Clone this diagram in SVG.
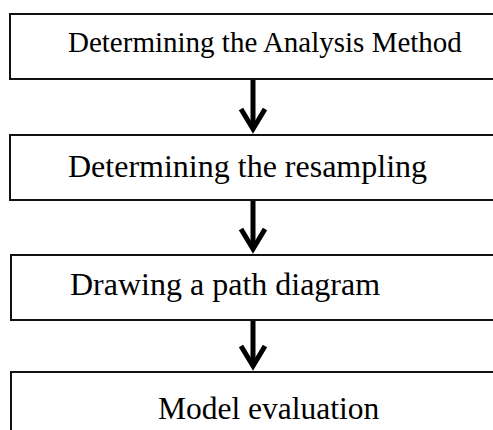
<svg xmlns="http://www.w3.org/2000/svg" width="493" height="430" viewBox="0 0 493 430">
<defs>
<style>
.box{fill:#fff;stroke:#111;stroke-width:2}
.lbl{font-family:"Liberation Serif","Times New Roman",serif;fill:#000}
.conn{stroke:#000;stroke-width:5;fill:none}
</style>
<marker id="chev" markerUnits="userSpaceOnUse" viewBox="-26 -16 32 32" markerWidth="32" markerHeight="32" refX="0" refY="0" orient="auto" overflow="visible">
<path d="M-20,-12 L0,0 L-20,12" fill="none" stroke="#000" stroke-width="5" stroke-linejoin="miter"/>
</marker>
</defs>
<rect width="493" height="430" fill="#fff"/>
<g id="connectors">
<line class="conn" x1="253" y1="79" x2="253" y2="129" marker-end="url(#chev)"/>
<line class="conn" x1="253" y1="200" x2="253" y2="249" marker-end="url(#chev)"/>
<line class="conn" x1="253" y1="320" x2="253" y2="366" marker-end="url(#chev)"/>
</g>
<g id="node1">
<rect class="box" x="10" y="14" width="500" height="65"/>
<text class="lbl" x="68" y="52" font-size="29">Determining the Analysis Method</text>
</g>
<g id="node2">
<rect class="box" x="10" y="135" width="500" height="65"/>
<text class="lbl" x="68" y="176.5" font-size="32">Determining the resampling</text>
</g>
<g id="node3">
<rect class="box" x="11" y="255" width="500" height="65"/>
<text class="lbl" x="70" y="295" font-size="32">Drawing a path diagram</text>
</g>
<g id="node4">
<rect class="box" x="11" y="372" width="500" height="80"/>
<text class="lbl" x="158" y="419" font-size="31.5">Model evaluation</text>
</g>
</svg>
